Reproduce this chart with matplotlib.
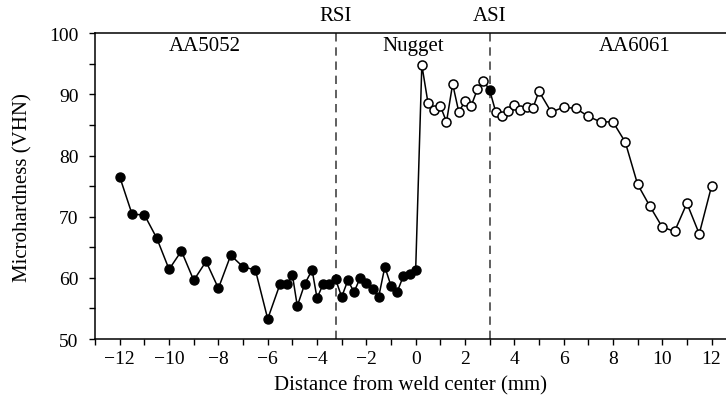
import numpy as np
import matplotlib.pyplot as plt
import matplotlib as mpl

mpl.rcParams['font.family'] = ['Liberation Serif', 'DejaVu Serif']

# AA5052 side (filled markers)
x_ret = [-12.0, -11.5, -11.0, -10.5, -10.0, -9.5, -9.0, -8.5, -8.0, -7.5,
         -7.0, -6.5, -6.0, -5.5, -5.2, -5.0, -4.8, -4.5, -4.2, -4.0,
         -3.75, -3.5, -3.25, -3.0, -2.75, -2.5, -2.25, -2.0, -1.75, -1.5,
         -1.25, -1.0, -0.75, -0.5, -0.25, 0.0]
y_ret = [76.5, 70.4, 70.3, 66.5, 61.4, 64.4, 59.6, 62.7, 58.3, 63.7,
         61.8, 61.3, 53.3, 59.0, 59.0, 60.5, 55.4, 59.0, 61.3, 56.7,
         59.0, 59.0, 59.8, 56.9, 59.6, 57.7, 60.0, 59.2, 58.2, 56.9,
         61.8, 58.7, 57.7, 60.3, 60.6, 61.3]

# nugget + AA6061 side (open markers)
x_adv = [0.25, 0.5, 0.75, 1.0, 1.25, 1.5, 1.75, 2.0, 2.25, 2.5, 2.75,
         3.0, 3.25, 3.5, 3.75, 4.0, 4.25, 4.5, 4.75, 5.0, 5.5, 6.0, 6.5,
         7.0, 7.5, 8.0, 8.5, 9.0, 9.5, 10.0, 10.5, 11.0, 11.5, 12.0]
y_adv = [94.8, 88.6, 87.4, 88.1, 85.5, 91.7, 87.1, 88.9, 88.1, 90.8, 92.2,
         90.7, 87.1, 86.4, 87.3, 88.2, 87.4, 87.9, 87.7, 90.5, 87.1, 87.9, 87.7,
         86.4, 85.5, 85.5, 82.2, 75.3, 71.7, 68.3, 67.6, 72.2, 67.2, 75.0]
filled_adv = [x == 3.0 for x in x_adv]

rsi, asi = -3.24, 3.0


def drawProfile(ax):
    x_all = np.array(x_ret + x_adv)
    y_all = np.array(y_ret + y_adv)
    ax.plot(x_all, y_all, color='black', lw=1.1, zorder=2)
    ax.plot(x_ret, y_ret, 'o', ms=6.5, mfc='black', mec='black', zorder=3)
    xa = np.array(x_adv)
    ya = np.array(y_adv)
    fa = np.array(filled_adv)
    ax.plot(xa[~fa], ya[~fa], 'o', ms=6.5, mfc='white', mec='black',
            mew=1.1, zorder=3)
    ax.plot(xa[fa], ya[fa], 'o', ms=6.5, mfc='black', mec='black', zorder=3)


fig = plt.figure(figsize=(7.26, 4.02), dpi=100)
ax = fig.add_axes([0.131, 0.154, 0.8695, 0.761])
drawProfile(ax)

for xv in (rsi, asi):
    ax.axvline(xv, color='#444444', lw=1.2, ls=(0, (5, 3.5)), zorder=1)

ax.set_xlim(-13, 12.6)
ax.set_ylim(50, 100)
ax.set_xticks(np.arange(-12, 13, 2))
ax.set_xticks(np.arange(-13, 13, 1), minor=True)
ax.set_yticks(np.arange(50, 101, 10))
ax.set_yticks(np.arange(50, 101, 5), minor=True)
ax.tick_params(which='both', direction='out', length=4, width=1,
               labelsize=14)
ax.tick_params(axis='y', pad=8)
ax.spines['right'].set_visible(False)
for s in ('left', 'bottom', 'top'):
    ax.spines[s].set_linewidth(1.1)

ax.set_xlabel('Distance from weld center (mm)', fontsize=15, labelpad=6)
ax.set_ylabel('Microhardness (VHN)', fontsize=15, labelpad=12)

ax.text(-8.55, 98.0, 'AA5052', ha='center', va='center', fontsize=15)
ax.text(-0.1, 98.0, 'Nugget', ha='center', va='center', fontsize=15)
ax.text(8.9, 98.0, 'AA6061', ha='center', va='center', fontsize=15)
ax.text(rsi, 102.9, 'RSI', ha='center', va='center', fontsize=15,
        clip_on=False)
ax.text(asi, 102.9, 'ASI', ha='center', va='center', fontsize=15,
        clip_on=False)

plt.savefig('out.png', dpi=100)
